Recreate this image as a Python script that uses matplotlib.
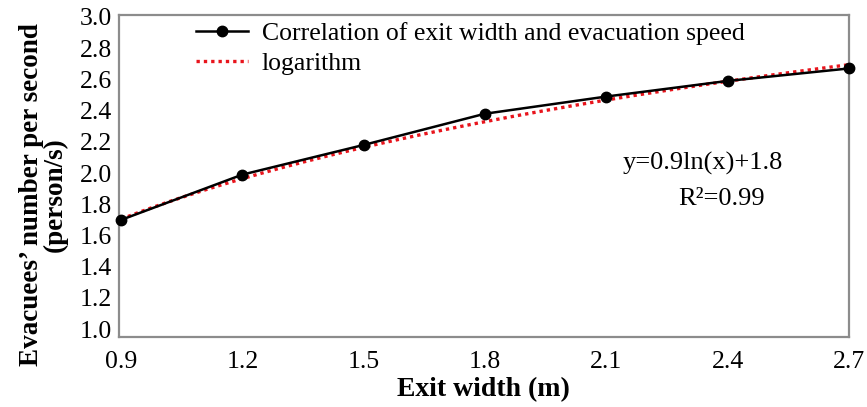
import numpy as np
import matplotlib
matplotlib.use("Agg")
import matplotlib.pyplot as plt

plt.rcParams['font.family'] = ['Liberation Serif', 'DejaVu Serif']

# exit width (m) and measured evacuees per second
exit_width = [0.9, 1.2, 1.5, 1.8, 2.1, 2.4, 2.7]
evac_speed = [1.70, 1.99, 2.18, 2.38, 2.49, 2.59, 2.67]

# logarithmic trend: y = a*ln(x) + b
fit_a = 0.9
fit_b = 1.8
fit_r2 = 0.99

x_ticks = [0.9, 1.2, 1.5, 1.8, 2.1, 2.4, 2.7]
y_ticks = [1.0, 1.2, 1.4, 1.6, 1.8, 2.0, 2.2, 2.4, 2.6, 2.8, 3.0]

fig = plt.figure(figsize=(8.67, 4.07), dpi=100)
ax = fig.add_axes([0.1373, 0.172, 0.8417, 0.791])

ax.plot(exit_width, evac_speed, color='black', lw=1.8, marker='o', ms=7.5,
        label='Correlation of exit width and evacuation speed', clip_on=False, zorder=3)

xs = np.linspace(exit_width[0], exit_width[-1], 200)
ax.plot(xs, fit_a * np.log(xs) + fit_b, color='#e8141c', ls=(0, (1, 1.2)), lw=2.4,
        label='logarithm', clip_on=False, zorder=2)

ax.set_xlim(0.895, 2.7)
ax.set_ylim(0.95, 3.012)
ax.set_xticks(x_ticks)
ax.set_xticklabels([f"{v:.1f}" for v in x_ticks], fontsize=18.5)
ax.set_yticks(y_ticks)
ax.set_yticklabels([f"{v:.1f}" for v in y_ticks], fontsize=18.5)
ax.tick_params(length=0, pad=5)
ax.tick_params(axis='x', pad=10)

for s in ax.spines.values():
    s.set_color('#8c8c8c')
    s.set_linewidth(1.6)

ax.set_xlabel('Exit width (m)', fontsize=20, fontweight='bold', labelpad=3)
# y label sits a bit below the axes centre, so place it by hand
fig.text(0.05, 0.522, "Evacuees’ number per second\n(person/s)", rotation=90,
         ha='center', va='center', multialignment='center', fontsize=19.5,
         fontweight='bold', linespacing=0.88)

ax.text(0.80, 0.54, f"y={fit_a}ln(x)+{fit_b}", transform=ax.transAxes,
        ha='center', va='center', fontsize=19)
ax.text(0.826, 0.43, f"R²={fit_r2}", transform=ax.transAxes,
        ha='center', va='center', fontsize=19)

ax.legend(loc='upper left', bbox_to_anchor=(0.092, 1.01), frameon=False,
          fontsize=18.5, handlelength=2.0, handletextpad=0.55, labelspacing=0.25,
          borderaxespad=0)

fig.savefig('out.png', dpi=100)
